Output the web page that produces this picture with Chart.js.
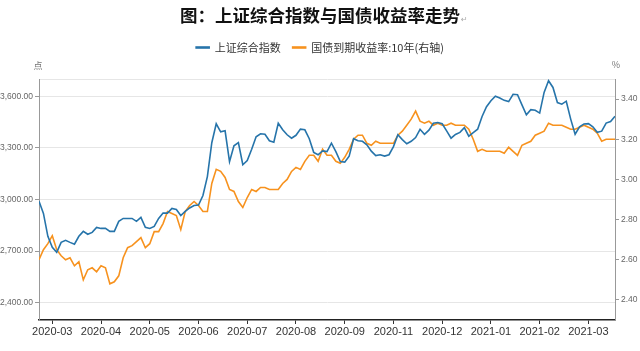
<!DOCTYPE html>
<html>
<head>
<meta charset="utf-8">
<script src="https://cdn.jsdelivr.net/npm/chart.js@4.4.1/dist/chart.umd.min.js"></script>
<style>
  body { margin: 0; background: #fff; }
  #wrap { width: 640px; height: 351px; }
</style>
</head>
<body>
<div id="wrap"><canvas id="myChart" width="640" height="351"></canvas></div>
<script>
// trading-day samples, roughly every 2 sessions from late Feb 2020 to Mar 2021
const shIndex = [2990, 2919, 2786, 2722, 2693, 2751, 2763, 2751, 2740, 2786,
  2815, 2798, 2809, 2838, 2832, 2832, 2815, 2815, 2873, 2890,
  2890, 2890, 2873, 2896, 2838, 2832, 2844, 2890, 2921, 2921,
  2948, 2942, 2907, 2931, 2951, 2965, 2968, 3023, 3133, 3330,
  3440, 3393, 3399, 3220, 3312, 3330, 3202, 3226, 3292, 3364,
  3382, 3379, 3341, 3333, 3443, 3405, 3376, 3356, 3373, 3409,
  3405, 3353, 3274, 3260, 3282, 3278, 3327, 3278, 3220, 3217,
  3252, 3353, 3341, 3338, 3318, 3281, 3255, 3260, 3252, 3260,
  3307, 3376, 3348, 3324, 3338, 3360, 3408, 3379, 3403, 3443,
  3447, 3440, 3399, 3356, 3378, 3390, 3417, 3368, 3389, 3408,
  3482, 3539, 3574, 3600, 3590, 3576, 3569, 3611, 3609, 3550,
  3492, 3522, 3518, 3502, 3622, 3690, 3651, 3563, 3554, 3571,
  3467, 3379, 3422, 3439, 3441, 3422, 3390, 3397, 3444, 3453,
  3483];

const bondYield = [2.60, 2.65, 2.68, 2.72, 2.65, 2.62, 2.60, 2.61, 2.57, 2.59,
  2.50, 2.55, 2.56, 2.54, 2.57, 2.56, 2.48, 2.49, 2.52, 2.61,
  2.66, 2.67, 2.69, 2.71, 2.66, 2.68, 2.74, 2.74, 2.78, 2.84,
  2.83, 2.82, 2.75, 2.84, 2.87, 2.89, 2.87, 2.84, 2.84, 2.98,
  3.05, 3.04, 3.01, 2.95, 2.94, 2.89, 2.86, 2.91, 2.95, 2.94,
  2.96, 2.96, 2.95, 2.95, 2.95, 2.98, 3.00, 3.04, 3.06, 3.05,
  3.09, 3.12, 3.12, 3.09, 3.15, 3.12, 3.12, 3.09, 3.08, 3.11,
  3.15, 3.20, 3.22, 3.22, 3.18, 3.17, 3.19, 3.18, 3.18, 3.18,
  3.18, 3.22, 3.24, 3.27, 3.30, 3.34, 3.29, 3.28, 3.29, 3.27,
  3.28, 3.27, 3.27, 3.28, 3.27, 3.27, 3.27, 3.25, 3.20, 3.14,
  3.15, 3.14, 3.14, 3.14, 3.14, 3.13, 3.16, 3.14, 3.12, 3.17,
  3.18, 3.19, 3.22, 3.23, 3.24, 3.28, 3.27, 3.27, 3.27, 3.26,
  3.25, 3.25, 3.26, 3.27, 3.26, 3.25, 3.23, 3.19, 3.20, 3.20,
  3.20];

const monthLabels = ["2020-03", "2020-04", "2020-05", "2020-06", "2020-07", "2020-08",
  "2020-09", "2020-11", "2020-12", "2021-01", "2021-02", "2021-03"];
const monthTickIndex = [3, 14, 25, 36, 47, 58, 69, 80, 91, 102, 113, 124];

const leftTicks = [2400, 2700, 3000, 3300, 3600, 3700];
const rightTicks = [2.4, 2.6, 2.8, 3.0, 3.2, 3.4];

const titleText = "图：上证综合指数与国债收益率走势";
const seriesNames = ["上证综合指数", "国债到期收益率:10年(右轴)"];
const unitLeft = "点";
const unitRight = "%";

const blue = "#2674aa";
const orange = "#f7921e";
const tickFont = { family: "'Liberation Sans Narrow', 'Liberation Sans', sans-serif", size: 8.5 };
const titleSize = 17.5;

const extraText = {
  id: "extraText",
  afterDraw(chart) {
    const ctx = chart.ctx;
    const area = chart.chartArea;
    ctx.save();
    ctx.font = "9px 'Noto Sans CJK SC', sans-serif";
    ctx.fillStyle = "#777";
    ctx.textAlign = "center";
    ctx.textBaseline = "middle";
    ctx.fillText(unitLeft, area.left - 1, area.top - 13);
    ctx.fillText(unitRight, area.right + 1, area.top - 14);

    // little paragraph mark after the title
    ctx.font = "bold " + titleSize + "px 'Noto Sans CJK SC', sans-serif";
    const w = ctx.measureText(titleText).width;
    ctx.font = "8px 'DejaVu Sans', sans-serif";
    ctx.fillStyle = "#aaa";
    ctx.textAlign = "left";
    ctx.fillText("↵", chart.width / 2 + w / 2 + 1, 20);
    ctx.restore();
  },
};

const config = {
  type: "line",
  data: {
    datasets: [
      {
        label: seriesNames[0],
        data: shIndex.map((v, i) => ({ x: i, y: v })),
        borderColor: blue,
        backgroundColor: blue,
        borderWidth: 1.6,
        pointRadius: 0,
        yAxisID: "y",
      },
      {
        label: seriesNames[1],
        data: bondYield.map((v, i) => ({ x: i, y: v })),
        borderColor: orange,
        backgroundColor: orange,
        borderWidth: 1.6,
        pointRadius: 0,
        yAxisID: "y1",
      },
    ],
  },
  options: {
    responsive: false,
    animation: false,
    devicePixelRatio: 1,
    layout: { padding: 0 },
    scales: {
      x: {
        type: "linear",
        position: "bottom",
        min: 0,
        max: shIndex.length - 1,
        afterBuildTicks(scale) {
          scale.ticks = monthTickIndex.map((v) => ({ value: v }));
        },
        afterFit(scale) {
          scale.height = 31;
        },
        grid: { drawOnChartArea: false, tickLength: 4, tickColor: "#333" },
        border: { color: "#222", width: 1.5 },
        ticks: {
          padding: 1,
          color: "#333",
          autoSkip: false,
          maxRotation: 0,
          font: { family: "'Liberation Sans Narrow', 'Liberation Sans', sans-serif", size: 11 },
          callback: (v, i) => monthLabels[i],
        },
      },
      spacer: {
        type: "linear",
        position: "top",
        grid: { display: false, drawTicks: false },
        border: { display: false },
        ticks: { display: false },
        afterFit(scale) {
          scale.height = 16;
        },
      },
      y: {
        type: "linear",
        position: "left",
        min: 2300,
        max: 3700,
        afterBuildTicks(scale) {
          scale.ticks = leftTicks.map((v) => ({ value: v }));
        },
        afterFit(scale) {
          scale.width = 39;
        },
        grid: {
          color: "#e6e6e6",
          tickLength: 4,
          tickColor: (c) => (c.tick && c.tick.value === 3700 ? "rgba(0,0,0,0)" : "#999"),
        },
        border: { color: "#999", width: 1 },
        ticks: {
          padding: 2,
          color: "#666",
          font: tickFont,
          callback: (v) =>
            v === 3700 ? "" : v.toLocaleString("en-US", { minimumFractionDigits: 2, maximumFractionDigits: 2 }),
        },
      },
      y1: {
        type: "linear",
        position: "right",
        min: 2.3,
        max: 3.5,
        afterBuildTicks(scale) {
          scale.ticks = rightTicks.map((v) => ({ value: v }));
        },
        afterFit(scale) {
          scale.width = 25;
        },
        grid: { drawOnChartArea: false, tickLength: 4, tickColor: "#999" },
        border: { color: "#999", width: 1 },
        ticks: {
          padding: 2,
          color: "#666",
          font: tickFont,
          callback: (v) => v.toFixed(2),
        },
      },
    },
    plugins: {
      title: {
        display: true,
        text: titleText,
        color: "#111",
        padding: { top: 5, bottom: 4 },
        font: { family: "'Noto Sans CJK SC', sans-serif", size: titleSize, weight: "bold" },
      },
      legend: {
        display: true,
        position: "top",
        labels: {
          boxWidth: 13,
          boxHeight: 1,
          padding: 12,
          color: "#333",
          font: { family: "'Noto Sans CJK SC', sans-serif", size: 11 },
        },
      },
      tooltip: { enabled: false },
    },
  },
  plugins: [extraText],
};

const myChart = new Chart(document.getElementById("myChart"), config);
</script>
</body>
</html>
